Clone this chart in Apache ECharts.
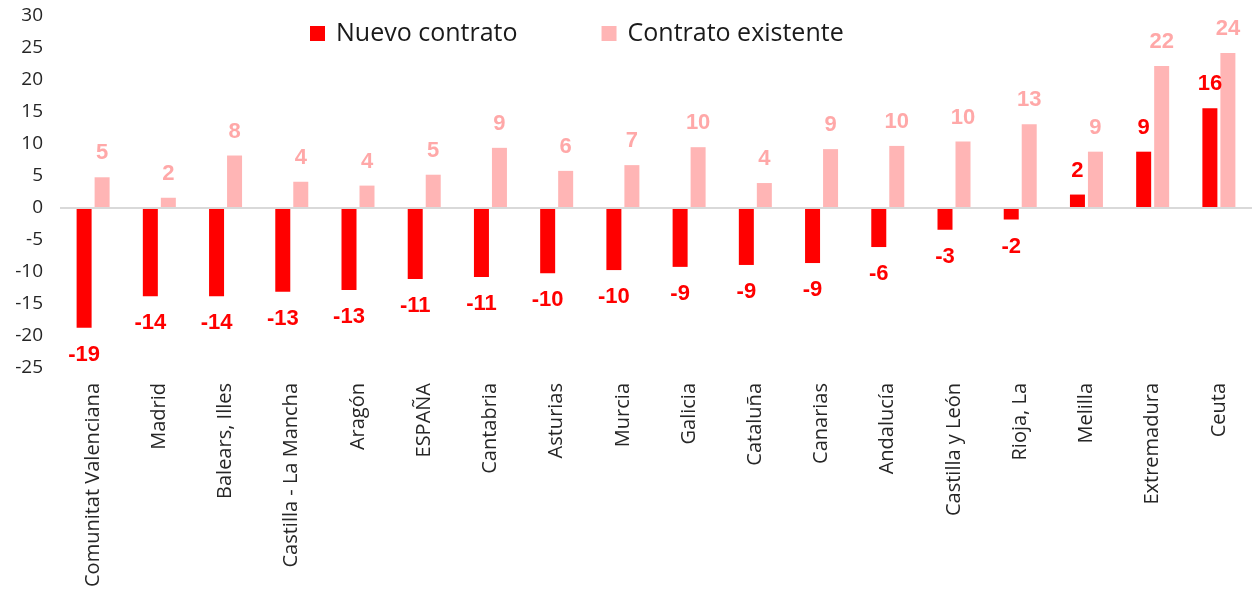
<!DOCTYPE html>
<html>
<head>
<meta charset="utf-8">
<script src="https://cdn.jsdelivr.net/npm/echarts@6/dist/echarts.min.js"></script>
<style>html,body{margin:0;padding:0;background:#fff}#c{width:1255px;height:594px}</style>
</head>
<body>
<div id="c"></div>
<script>
var categories = ["Comunitat Valenciana","Madrid","Balears, Illes","Castilla - La Mancha","Aragón","ESPAÑA","Cantabria","Asturias","Murcia","Galicia","Cataluña","Canarias","Andalucía","Castilla y León","Rioja, La","Melilla","Extremadura","Ceuta"];
var nuevoContrato = [-18.7,-13.8,-13.8,-13.1,-12.8,-11.1,-10.8,-10.2,-9.7,-9.2,-8.9,-8.6,-6.1,-3.4,-1.8,2.1,8.8,15.6];
var contratoExistente = [4.8,1.6,8.2,4.1,3.5,5.2,9.4,5.8,6.7,9.5,3.9,9.2,9.7,10.4,13.1,8.8,22.2,24.2];
var yTicks = {min:-25, max:30, interval:5};

var chart = echarts.init(document.getElementById('c'));
function labelFor(v, color){
  return {
    value: v,
    label: {
      show: true,
      position: v < 0 ? 'bottom' : 'top',
      distance: v < 0 ? 16 : 13,
      color: color,
      fontFamily: 'Liberation Sans, Arial, sans-serif',
      fontWeight: 'bold',
      fontSize: 22,
      formatter: function(p){ return Math.round(p.value); }
    }
  };
}
chart.setOption({
  animation: false,
  legend: {
    left: 305, top: 16,
    icon: 'rect', itemWidth: 15, itemHeight: 15, itemGap: 84,
    textStyle: {fontFamily: 'Open Sans, sans-serif', fontSize: 25, color: '#1a1a1a', padding: [0,0,0,6]},
    data: ['Nuevo contrato','Contrato existente']
  },
  grid: {left: 60, right: 3, top: 16, bottom: 226, containLabel: false},
  xAxis: {
    type: 'category', data: categories,
    axisLine: {show: false}, axisTick: {show: false},
    axisLabel: {rotate: 90, interval: 0, margin: 15, fontFamily: 'Open Sans, sans-serif', fontSize: 20, color: '#262626'}
  },
  yAxis: {
    type: 'value', min: yTicks.min, max: yTicks.max, interval: yTicks.interval,
    splitLine: {show: false}, axisLine: {show: false}, axisTick: {show: false},
    axisLabel: {margin: 17, fontFamily: 'Open Sans, sans-serif', fontSize: 19, color: '#262626'}
  },
  series: [
    {
      name: 'Nuevo contrato', type: 'bar', barWidth: 15, barGap: '20%',
      itemStyle: {color: '#FF0000'},
      data: nuevoContrato.map(function(v){ return labelFor(v, '#FF0000'); }),
      markLine: {
        silent: true, symbol: 'none', label: {show: false},
        lineStyle: {color: '#D9D9D9', width: 2, type: 'solid'},
        data: [{yAxis: 0}]
      }
    },
    {
      name: 'Contrato existente', type: 'bar', barWidth: 15, barGap: '20%',
      itemStyle: {color: '#FFB5B5'},
      data: contratoExistente.map(function(v){ return labelFor(v, '#FFA8A8'); })
    }
  ]
});
</script>
</body>
</html>
